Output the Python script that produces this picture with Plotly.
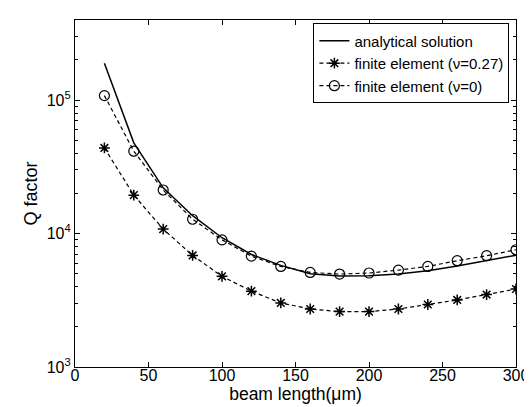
import plotly.graph_objects as go

length_um = [20, 40, 60, 80, 100, 120, 140, 160, 180, 200, 220, 240, 260, 280, 300]
q_analytical = [1.89e5, 4.78e4, 2.2e4, 1.36e4, 9.3e3, 6.97e3, 5.77e3, 5.0e3, 4.8e3,
                4.83e3, 4.97e3, 5.27e3, 5.72e3, 6.26e3, 6.88e3]
q_fe_nu027 = [4.38e4, 1.94e4, 1.08e4, 6.85e3, 4.78e3, 3.7e3, 3.02e3, 2.72e3, 2.6e3,
              2.6e3, 2.72e3, 2.94e3, 3.18e3, 3.49e3, 3.84e3]
q_fe_nu0 = [1.08e5, 4.14e4, 2.12e4, 1.28e4, 8.97e3, 6.77e3, 5.67e3, 5.11e3, 4.97e3,
            5.06e3, 5.32e3, 5.67e3, 6.26e3, 6.82e3, 7.56e3]

x_ticks = [0, 50, 100, 150, 200, 250, 300]
y_ticks = [1e3, 1e4, 1e5]
y_ticktext = ["10<sup>3</sup>", "10<sup>4</sup>", "10<sup>5</sup>"]
y_minor = [m * 10 ** e for e in (3, 4, 5) for m in range(2, 10) if m * 10 ** e < 4e5]

FONT = "Liberation Sans, Arial, Helvetica, sans-serif"

fig = go.Figure()
fig.add_trace(go.Scatter(
    x=length_um, y=q_analytical, mode="lines", name="analytical solution",
    line=dict(color="black", width=1.5)))
fig.add_trace(go.Scatter(
    x=length_um, y=q_fe_nu027, mode="lines+markers", name="finite element (\u03bd=0.27)",
    line=dict(color="black", width=1.2, dash="4px,3px"),
    marker=dict(symbol="asterisk-open", size=9, color="black",
                line=dict(color="black", width=1.5))))
fig.add_trace(go.Scatter(
    x=length_um, y=q_fe_nu0, mode="lines+markers", name="finite element (\u03bd=0)",
    line=dict(color="black", width=1.2, dash="4px,3px"),
    marker=dict(symbol="circle-open", size=10, color="black",
                line=dict(color="black", width=1.2))))

fig.update_layout(
    width=532, height=407,
    margin=dict(l=67, r=19, t=11, b=48),
    paper_bgcolor="white", plot_bgcolor="white",
    font=dict(family=FONT, size=16, color="black"),
    showlegend=True,
    legend=dict(x=0.985, y=0.99, xanchor="right", yanchor="top",
                bgcolor="white", bordercolor="black", borderwidth=1,
                font=dict(family=FONT, size=15, color="black"),
                tracegroupgap=0, itemwidth=30),
)
fig.update_xaxes(
    range=[0, 300], tickvals=x_ticks, ticks="inside", ticklen=5,
    tickcolor="black", linecolor="black", linewidth=1.2, mirror="ticks",
    showgrid=False, zeroline=False, showline=True,
    tickfont=dict(size=16), ticklabelstandoff=-6,
    title=dict(text="beam length(\u03bcm)", font=dict(size=17.5), standoff=0),
)
fig.update_yaxes(
    type="log", range=[3, 5.6], tickvals=y_ticks, ticktext=y_ticktext,
    ticks="inside", ticklen=5, tickcolor="black", linecolor="black", linewidth=1.2,
    mirror="ticks", showgrid=False, zeroline=False, showline=True,
    tickfont=dict(size=16), ticklabelstandoff=0,
    minor=dict(tickmode="array", tickvals=y_minor, ticks="inside", ticklen=3,
               tickcolor="black", showgrid=False),
    title=dict(text="Q factor", font=dict(size=18), standoff=4),
)

fig.write_html("out.html")
